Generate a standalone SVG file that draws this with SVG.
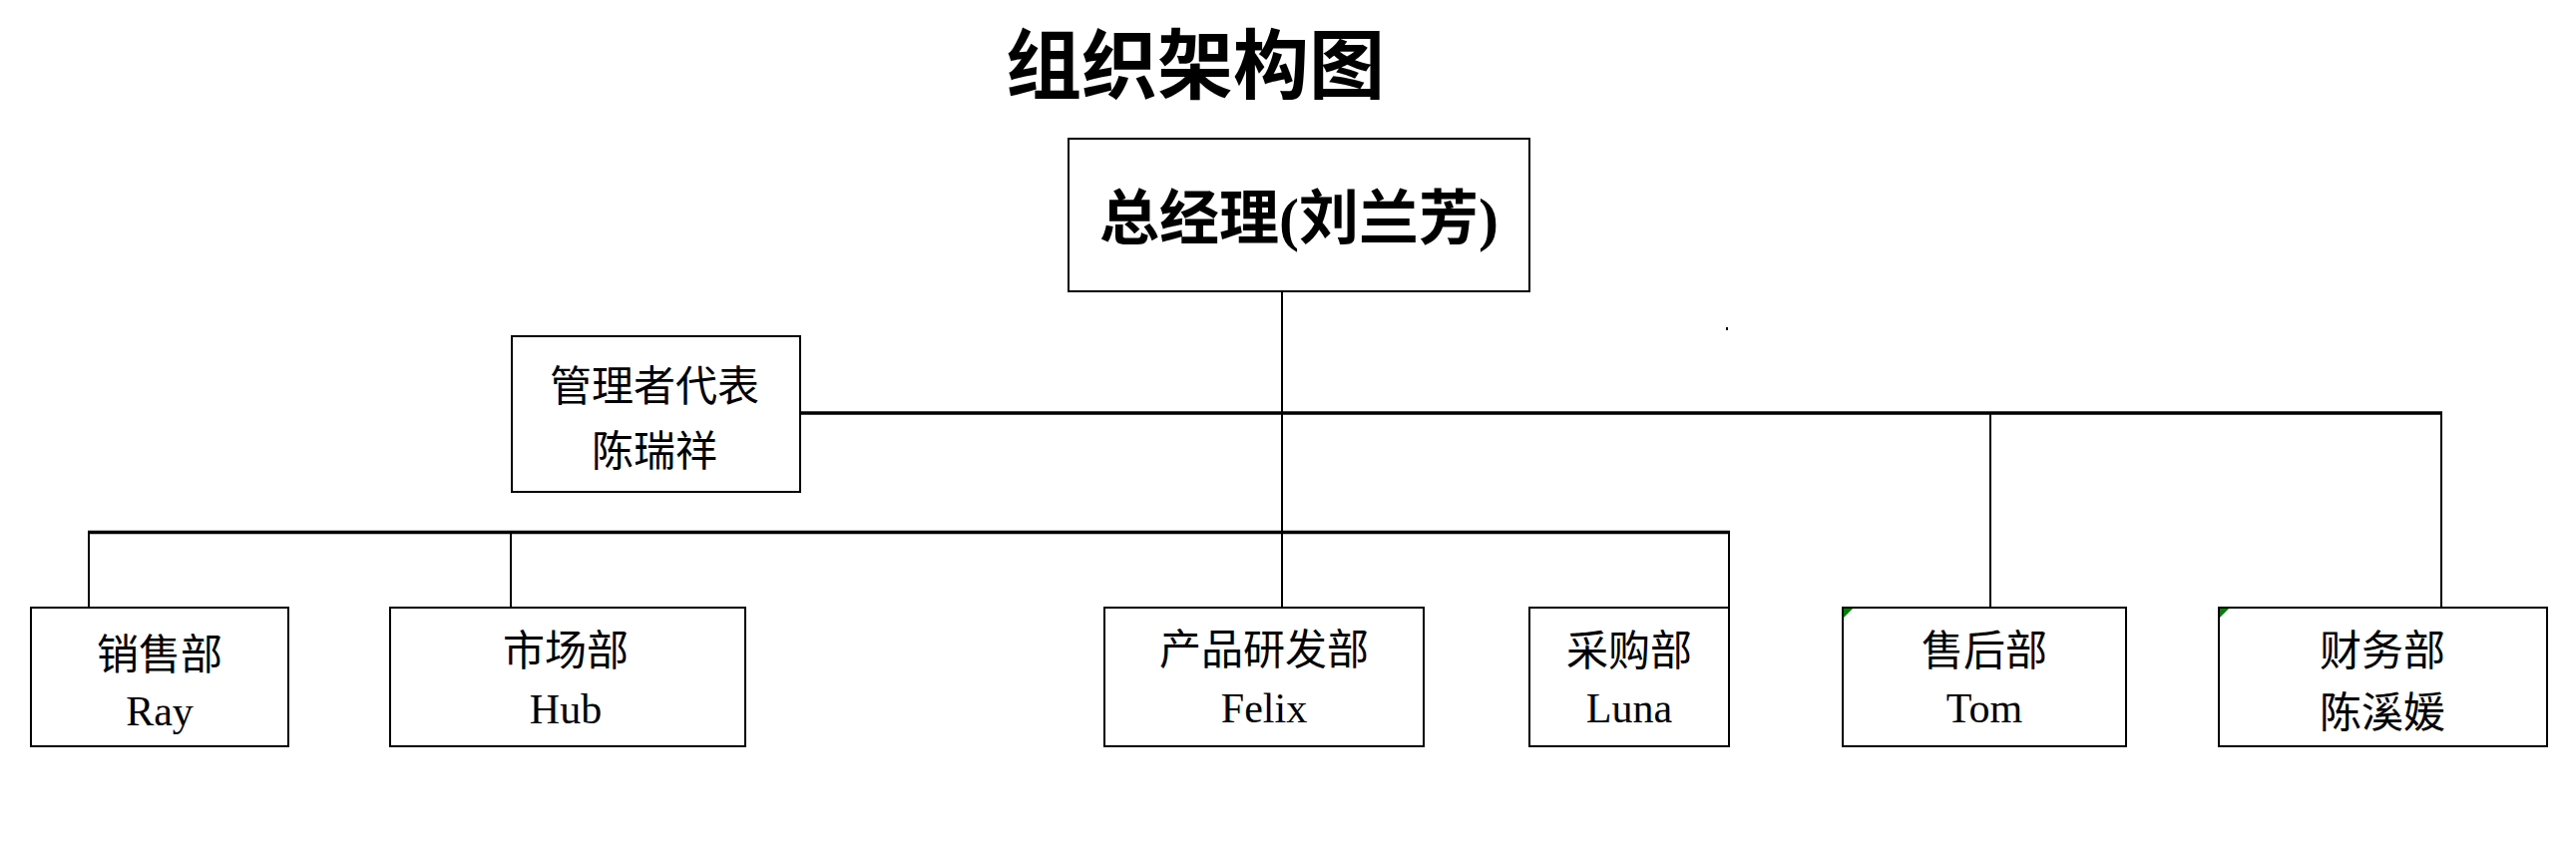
<svg xmlns="http://www.w3.org/2000/svg" width="2582" height="868" viewBox="0 0 2582 868">
<style>
.bg{fill:#fff}
.box{fill:#fff;stroke:#000;stroke-width:2}
.t{font-family:"Liberation Serif","Noto Sans CJK SC",serif;fill:#000;text-anchor:middle}
.n{font-size:42px}
.title{font-size:76px;font-weight:bold}
.head{font-size:60px;font-weight:bold}
.bus{stroke:#000;stroke-width:3.5;fill:none}
.link{stroke:#000;stroke-width:2;fill:none}
.flag{fill:#008000}
</style>
<rect class="bg" x="0" y="0" width="2582" height="868"/>
<text class="t title" x="1198" y="93">组织架构图</text>
<g id="connectors">
  <line class="link" x1="1285" y1="292" x2="1285" y2="609"/>
  <line class="bus" x1="802" y1="414" x2="2448" y2="414"/>
  <line class="link" x1="2447" y1="413" x2="2447" y2="609"/>
  <line class="link" x1="1995" y1="414" x2="1995" y2="609"/>
  <line class="bus" x1="88" y1="533.5" x2="1734" y2="533.5"/>
  <line class="link" x1="89" y1="532" x2="89" y2="609"/>
  <line class="link" x1="512" y1="534" x2="512" y2="609"/>
  <line class="link" x1="1733" y1="532" x2="1733" y2="609"/>
</g>
<g id="gm">
  <rect class="box" x="1071" y="139" width="462" height="153"/>
  <text class="t head" x="1302" y="240">总经理(刘兰芳)</text>
</g>
<g id="mgr-rep">
  <rect class="box" x="513" y="337" width="289" height="156"/>
  <text class="t n" x="656" y="402">管理者代表</text>
  <text class="t n" x="656" y="467">陈瑞祥</text>
</g>
<g id="sales">
  <rect class="box" x="31" y="609" width="258" height="139"/>
  <text class="t n" x="160" y="671">销售部</text>
  <text class="t n" x="160" y="727">Ray</text>
</g>
<g id="marketing">
  <rect class="box" x="391" y="609" width="356" height="139"/>
  <text class="t n" x="567" y="667">市场部</text>
  <text class="t n" x="567" y="725">Hub</text>
</g>
<g id="rnd">
  <rect class="box" x="1107" y="609" width="320" height="139"/>
  <text class="t n" x="1267" y="666">产品研发部</text>
  <text class="t n" x="1267" y="724">Felix</text>
</g>
<g id="purchasing">
  <rect class="box" x="1533" y="609" width="200" height="139"/>
  <text class="t n" x="1633" y="667">采购部</text>
  <text class="t n" x="1633" y="724">Luna</text>
</g>
<g id="aftersales">
  <rect class="box" x="1847" y="609" width="284" height="139"/>
  <polygon class="flag" points="1848,610 1857,610 1848,619"/>
  <text class="t n" x="1989" y="667">售后部</text>
  <text class="t n" x="1989" y="724">Tom</text>
</g>
<g id="finance">
  <rect class="box" x="2224" y="609" width="329" height="139"/>
  <polygon class="flag" points="2225,610 2234,610 2225,619"/>
  <text class="t n" x="2388" y="667">财务部</text>
  <text class="t n" x="2388" y="729">陈溪媛</text>
</g>
<rect x="1730" y="328" width="2" height="3" fill="#000"/>
</svg>
